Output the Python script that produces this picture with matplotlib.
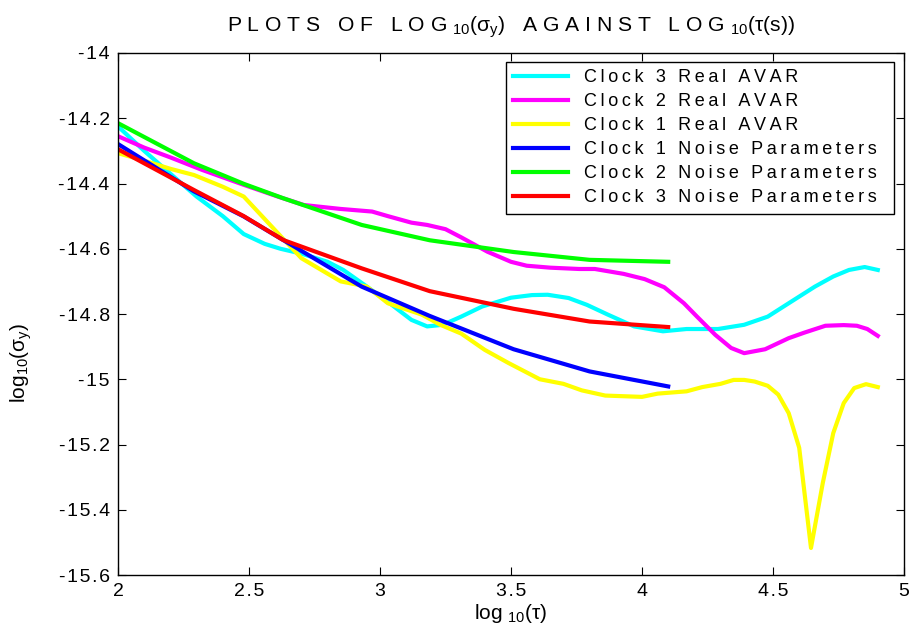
import numpy as np
import matplotlib
matplotlib.use('Agg')
import matplotlib.pyplot as plt
from matplotlib.ticker import FuncFormatter

plt.rcParams['font.family'] = ['Liberation Sans', 'DejaVu Sans']
plt.rcParams['mathtext.fontset'] = 'custom'
plt.rcParams['mathtext.rm'] = 'Liberation Sans'
plt.rcParams['mathtext.it'] = 'Liberation Sans'
plt.rcParams['axes.unicode_minus'] = False

# Real AVAR curves
x_c3 = [2.0, 2.1, 2.2, 2.3, 2.4, 2.48, 2.56, 2.62, 2.7, 2.8, 2.86, 2.95, 3.05, 3.12, 3.18,
        3.24, 3.31, 3.39, 3.5, 3.58, 3.64, 3.72, 3.79, 3.87, 3.97, 4.08, 4.17, 4.29, 4.39,
        4.48, 4.56, 4.66, 4.73, 4.79, 4.85, 4.9]
y_c3 = [-14.225, -14.30, -14.37, -14.44, -14.50, -14.555, -14.585, -14.60, -14.615, -14.64,
        -14.665, -14.716, -14.775, -14.818, -14.838, -14.833, -14.808, -14.777, -14.75,
        -14.742, -14.741, -14.751, -14.772, -14.802, -14.838, -14.853, -14.846, -14.846,
        -14.833, -14.808, -14.767, -14.716, -14.685, -14.665, -14.656, -14.665]

x_c2 = [2.0, 2.1, 2.2, 2.32, 2.48, 2.61, 2.71, 2.85, 2.97, 3.03, 3.12, 3.18, 3.25, 3.31,
        3.41, 3.5, 3.56, 3.65, 3.76, 3.82, 3.93, 4.01, 4.085, 4.16, 4.21, 4.28, 4.34, 4.39,
        4.47, 4.56, 4.62, 4.70, 4.77, 4.82, 4.86, 4.9]
y_c2 = [-14.255, -14.29, -14.32, -14.358, -14.404, -14.44, -14.466, -14.478, -14.486, -14.50,
        -14.52, -14.527, -14.54, -14.565, -14.609, -14.64, -14.652, -14.658, -14.662, -14.662,
        -14.677, -14.693, -14.718, -14.767, -14.808, -14.864, -14.904, -14.92, -14.908,
        -14.874, -14.857, -14.836, -14.834, -14.836, -14.846, -14.867]

x_c1 = [2.0, 2.1, 2.2, 2.29, 2.4, 2.48, 2.61, 2.70, 2.85, 2.95, 3.03, 3.16, 3.23, 3.31, 3.40,
        3.49, 3.61, 3.70, 3.77, 3.86, 4.0, 4.06, 4.17, 4.23, 4.30, 4.35, 4.39, 4.43, 4.48,
        4.52, 4.56, 4.60, 4.645, 4.69, 4.73, 4.77, 4.81, 4.855, 4.9]
y_c1 = [-14.307, -14.33, -14.355, -14.374, -14.41, -14.44, -14.552, -14.629, -14.70, -14.716,
        -14.767, -14.802, -14.833, -14.86, -14.91, -14.95, -15.0, -15.014, -15.034, -15.05,
        -15.054, -15.044, -15.037, -15.024, -15.014, -15.002, -15.002, -15.007, -15.02,
        -15.047, -15.104, -15.21, -15.517, -15.318, -15.165, -15.073, -15.027, -15.015, -15.024]

# noise parameter fits
x_np = [2.0, 2.29, 2.48, 2.63, 2.93, 3.19, 3.51, 3.80, 4.1]
y_n1 = [-14.279, -14.424, -14.501, -14.573, -14.716, -14.806, -14.908, -14.976, -15.022]
y_n2 = [-14.215, -14.338, -14.401, -14.445, -14.527, -14.574, -14.61, -14.634, -14.64]
y_n3 = [-14.295, -14.42, -14.50, -14.573, -14.66, -14.73, -14.784, -14.823, -14.84]

labels = ['Clock 3 Real AVAR', 'Clock 2 Real AVAR', 'Clock 1 Real AVAR',
          'Clock 1 Noise Parameters', 'Clock 2 Noise Parameters', 'Clock 3 Noise Parameters']
xticks = [2, 2.5, 3, 3.5, 4, 4.5, 5]
yticks = [-14, -14.2, -14.4, -14.6, -14.8, -15, -15.2, -15.4, -15.6]


def spaced(s, sep='\u2009'):
    return sep.join(s)


fig = plt.figure(figsize=(9.09, 6.37), dpi=100)
ax = fig.add_axes([0.1298, 0.0973, 0.8647, 0.8195])

lw = 3
ax.plot(x_c3, y_c3, color='#00ffff', lw=lw)
ax.plot(x_c2, y_c2, color='#ff00ff', lw=lw)
ax.plot(x_c1, y_c1, color='#ffff00', lw=lw)
ax.plot(x_np, y_n1, color='#0000ff', lw=lw)
ax.plot(x_np, y_n2, color='#00ff00', lw=lw)
ax.plot(x_np, y_n3, color='#ff0000', lw=lw)

ax.set_xlim(2, 5)
ax.set_ylim(-15.6, -14)
ax.set_xticks(xticks)
ax.set_yticks(yticks)
fmt = FuncFormatter(lambda v, p: spaced('%g' % v, '\u200a'))
ax.xaxis.set_major_formatter(fmt)
ax.yaxis.set_major_formatter(fmt)
ax.tick_params(direction='in', length=6, width=0.8, top=True, right=True,
               labelsize=14, pad=6)
for s in ax.spines.values():
    s.set_linewidth(1)

ax.set_xlabel('log $_{10}$(\u03c4)', fontsize=15, labelpad=1)
ax.set_ylabel('log$_{10}$(\u03c3$_y$)', fontsize=15)
ax.yaxis.set_label_coords(-0.107, 0.406)

words = ['PLOTS', 'OF', 'LOG$_{10}$(\u03c3$_y$)', 'AGAINST', 'LOG$_{10}$(\u03c4(s))']
title = '   '.join(w if '$' in w else spaced(w, ' ') for w in words)
title = title.replace('LOG$', 'L O G $')
ax.set_title(title, fontsize=15.2, pad=15)

leg = ax.legend([spaced(l) + '  ' for l in labels], loc='upper right',
                bbox_to_anchor=(0.987, 0.983), borderaxespad=0, fontsize=13,
                fancybox=False, edgecolor='black', framealpha=1, handlelength=3.0,
                borderpad=0.4, labelspacing=0.39, handletextpad=0.9)
leg.get_frame().set_linewidth(1)

fig.savefig('out.png', dpi=100)
